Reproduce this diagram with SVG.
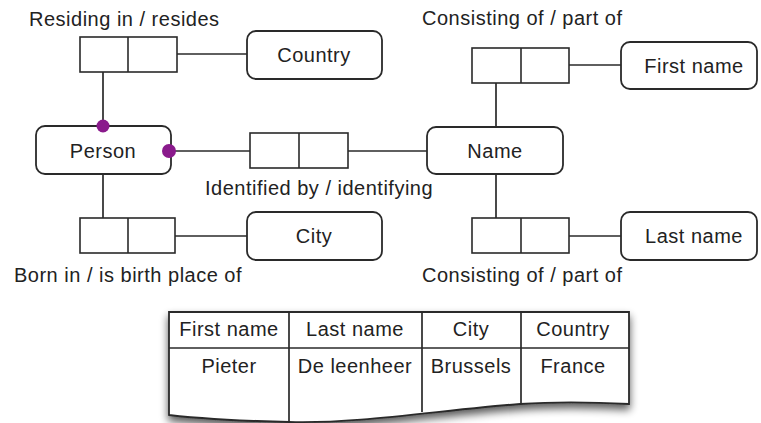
<svg xmlns="http://www.w3.org/2000/svg" width="761" height="423" viewBox="0 0 761 423">
  <style>
    .t { font-family: "Liberation Sans", Arial, sans-serif; font-size: 20px; letter-spacing: 0.5px; fill: #222; }
    .c { text-anchor: middle; }
    .node { fill: #fff; stroke: #2a2a2a; stroke-width: 1.8; }
    .role { fill: #fff; stroke: #2a2a2a; stroke-width: 1.6; }
    .link { stroke: #2a2a2a; stroke-width: 1.7; fill: none; }
    .dot { fill: #8a1a8c; }
    .grid { stroke: #2a2a2a; stroke-width: 1.7; fill: none; }
  </style>
  <defs>
    <filter id="shadow" x="-10%" y="-20%" width="120%" height="150%">
      <feGaussianBlur in="SourceAlpha" stdDeviation="4"/>
      <feOffset dx="0" dy="5" result="b"/>
      <feComponentTransfer><feFuncA type="linear" slope="0.65"/></feComponentTransfer>
      <feMerge><feMergeNode/><feMergeNode in="SourceGraphic"/></feMerge>
    </filter>
  </defs>
  <rect width="761" height="423" fill="#fff"/>

  <!-- connectors -->
  <g id="connectors">
    <line class="link" x1="177" y1="54" x2="247" y2="54"/>
    <line class="link" x1="103" y1="72" x2="103" y2="126"/>
    <line class="link" x1="171" y1="151" x2="250" y2="151"/>
    <line class="link" x1="348" y1="151" x2="427" y2="151"/>
    <line class="link" x1="103" y1="174" x2="103" y2="218"/>
    <line class="link" x1="175" y1="236" x2="247" y2="236"/>
    <line class="link" x1="496" y1="83" x2="496" y2="127"/>
    <line class="link" x1="569" y1="65" x2="621" y2="65"/>
    <line class="link" x1="496" y1="174" x2="496" y2="218"/>
    <line class="link" x1="569" y1="236" x2="621" y2="236"/>
  </g>

  <!-- fact types (role boxes) -->
  <g id="residing">
    <rect class="role" x="80" y="37" width="97" height="35"/>
    <line class="role" x1="128" y1="37" x2="128" y2="72"/>
    <text class="t" x="29" y="26">Residing in / resides</text>
  </g>
  <g id="identified">
    <rect class="role" x="250" y="133" width="98" height="35"/>
    <line class="role" x1="299" y1="133" x2="299" y2="168"/>
    <text class="t" x="205" y="195">Identified by / identifying</text>
  </g>
  <g id="born">
    <rect class="role" x="80" y="218" width="95" height="35"/>
    <line class="role" x1="128" y1="218" x2="128" y2="253"/>
    <text class="t" x="14" y="282">Born in / is birth place of</text>
  </g>
  <g id="consisting-first">
    <rect class="role" x="472" y="48" width="97" height="35"/>
    <line class="role" x1="521" y1="48" x2="521" y2="83"/>
    <text class="t" x="422" y="25">Consisting of / part of</text>
  </g>
  <g id="consisting-last">
    <rect class="role" x="472" y="218" width="97" height="35"/>
    <line class="role" x1="521" y1="218" x2="521" y2="253"/>
    <text class="t" x="422" y="282">Consisting of / part of</text>
  </g>

  <!-- object types -->
  <g id="country">
    <rect class="node" x="247" y="31" width="135" height="48" rx="9"/>
    <text class="t c" x="314" y="62">Country</text>
  </g>
  <g id="person">
    <rect class="node" x="36" y="126" width="135" height="48" rx="9"/>
    <text class="t c" x="103" y="158">Person</text>
  </g>
  <g id="city">
    <rect class="node" x="247" y="212" width="135" height="48" rx="9"/>
    <text class="t c" x="314" y="243">City</text>
  </g>
  <g id="name">
    <rect class="node" x="427" y="127" width="136" height="47" rx="9"/>
    <text class="t c" x="495" y="158">Name</text>
  </g>
  <g id="first-name">
    <rect class="node" x="621" y="42" width="136" height="47" rx="9"/>
    <text class="t c" x="694" y="73">First name</text>
  </g>
  <g id="last-name">
    <rect class="node" x="621" y="212" width="136" height="48" rx="9"/>
    <text class="t c" x="694" y="243">Last name</text>
  </g>

  <!-- population sheet with torn bottom edge -->
  <g id="population">
    <path d="M169,312 H629 V404 C590,402 550,402 520,404 C440,410 360,424 289,422 C240,421 195,418 169,415 Z" fill="#fff" stroke="#2a2a2a" stroke-width="1.8" filter="url(#shadow)"/>
    <line class="grid" x1="169" y1="348" x2="629" y2="348"/>
    <line class="grid" x1="289" y1="312" x2="289" y2="422"/>
    <line class="grid" x1="422" y1="312" x2="422" y2="412"/>
    <line class="grid" x1="521" y1="312" x2="521" y2="404"/>
    <text class="t c" x="229" y="336">First name</text>
    <text class="t c" x="355" y="336">Last name</text>
    <text class="t c" x="471" y="336">City</text>
    <text class="t c" x="573" y="336">Country</text>
    <text class="t c" x="229" y="373">Pieter</text>
    <text class="t c" x="355" y="373">De leenheer</text>
    <text class="t c" x="471" y="373">Brussels</text>
    <text class="t c" x="573" y="373">France</text>
  </g>

  <!-- mandatory role dots -->
  <g id="mandatory">
    <circle class="dot" cx="103" cy="126" r="6.5"/>
    <circle class="dot" cx="169" cy="151" r="7"/>
  </g>
</svg>
